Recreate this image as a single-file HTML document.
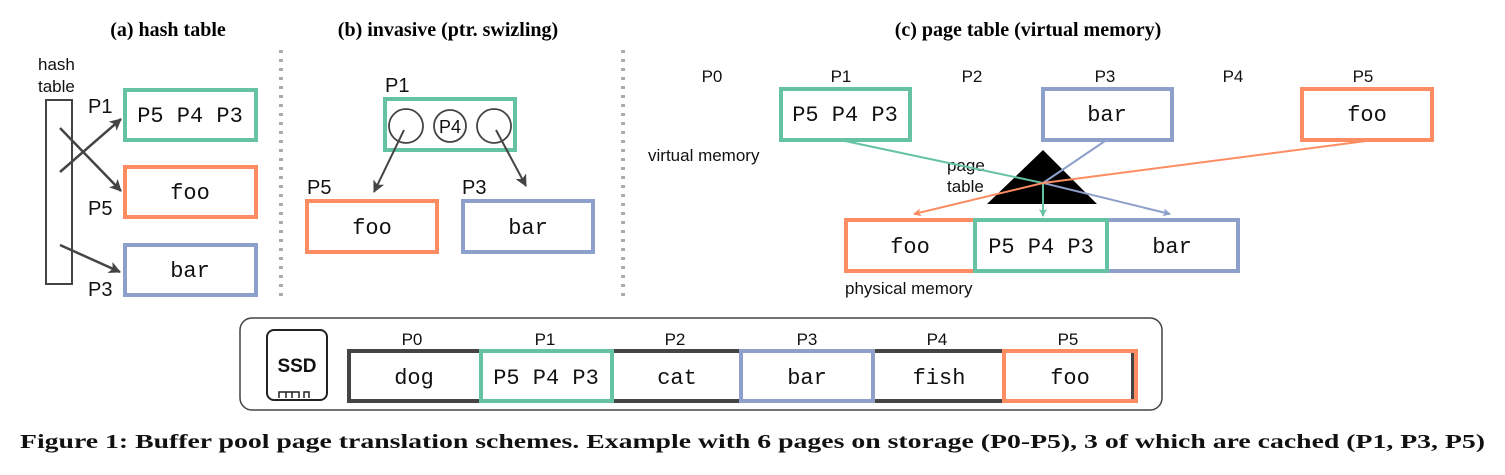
<!DOCTYPE html>
<html><head><meta charset="utf-8"><style>body{margin:0;background:#fff}svg{display:block}</style></head><body>
<svg width="1505" height="475" viewBox="0 0 1505 475" xmlns="http://www.w3.org/2000/svg">
<defs>
<marker id="ad" markerWidth="12" markerHeight="12" refX="11" refY="6" orient="auto" markerUnits="userSpaceOnUse"><path d="M0,0 L12,6 L0,12 L3,6z" fill="#444"/></marker>
<marker id="ag" markerWidth="8" markerHeight="8" refX="7" refY="4" orient="auto" markerUnits="userSpaceOnUse"><path d="M0,0 L8,4 L0,8 L2,4z" fill="#66c2a5"/></marker>
<marker id="ab" markerWidth="8" markerHeight="8" refX="7" refY="4" orient="auto" markerUnits="userSpaceOnUse"><path d="M0,0 L8,4 L0,8 L2,4z" fill="#8da0cb"/></marker>
<marker id="ao" markerWidth="8" markerHeight="8" refX="7" refY="4" orient="auto" markerUnits="userSpaceOnUse"><path d="M0,0 L8,4 L0,8 L2,4z" fill="#fc8d62"/></marker>
</defs>
<g font-family="Liberation Serif, serif" font-weight="bold" font-size="20" text-anchor="middle">
<text x="168" y="36">(a) hash table</text>
<text x="448" y="36">(b) invasive (ptr. swizling)</text>
<text x="1028" y="36">(c) page table (virtual memory)</text>
</g>
<g stroke="#aaa" stroke-width="4" stroke-dasharray="3,6">
<line x1="281" y1="50" x2="281" y2="302"/><line x1="623" y1="50" x2="623" y2="302"/>
</g>
<g font-family="Liberation Sans, sans-serif" font-size="17" fill="#111">
<text x="38" y="70">hash</text><text x="38" y="92">table</text>
</g>
<rect x="46" y="100" width="26" height="184" fill="none" stroke="#444" stroke-width="2"/>
<g fill="none" stroke-width="4">
<rect x="125" y="90" width="131" height="50" stroke="#66c2a5"/>
<rect x="125" y="167" width="131" height="50" stroke="#fc8d62"/>
<rect x="125" y="245" width="131" height="50" stroke="#8da0cb"/>
<rect x="385" y="99" width="130" height="51" stroke="#66c2a5"/>
<rect x="307" y="201" width="130" height="51" stroke="#fc8d62"/>
<rect x="463" y="201" width="130" height="51" stroke="#8da0cb"/>
<rect x="781" y="89" width="129" height="51" stroke="#66c2a5"/>
<rect x="1043" y="89" width="129" height="51" stroke="#8da0cb"/>
<rect x="1302" y="89" width="130" height="51" stroke="#fc8d62"/>
</g>
<g stroke="#444" stroke-width="2.5" fill="none">
<line x1="60" y1="172" x2="121" y2="119" marker-end="url(#ad)"/>
<line x1="60" y1="128" x2="121" y2="191" marker-end="url(#ad)"/>
<line x1="60" y1="245" x2="120" y2="272" marker-end="url(#ad)"/>
<circle cx="406" cy="126" r="17" stroke-width="1.8"/>
<circle cx="450" cy="126" r="16" stroke-width="1.8"/>
<circle cx="494" cy="126" r="17" stroke-width="1.8"/>
<line x1="404" y1="130" x2="374" y2="192" marker-end="url(#ad)" stroke-width="2"/>
<line x1="496" y1="130" x2="526" y2="186" marker-end="url(#ad)" stroke-width="2"/>
</g>
<g font-family="Liberation Sans, sans-serif" font-size="20" fill="#111">
<text x="88" y="113">P1</text><text x="88" y="215">P5</text><text x="88" y="296">P3</text>
<text x="385" y="92">P1</text><text x="307" y="194">P5</text><text x="462" y="194">P3</text>
<text x="450" y="133" text-anchor="middle" font-size="18">P4</text>
</g>
<g font-family="Liberation Sans, sans-serif" font-size="17" fill="#111" text-anchor="middle">
<text x="712" y="82">P0</text><text x="841" y="82">P1</text><text x="972" y="82">P2</text><text x="1105" y="82">P3</text><text x="1233" y="82">P4</text><text x="1363" y="82">P5</text>
</g>
<g font-family="Liberation Sans, sans-serif" font-size="17" fill="#111">
<text x="648" y="161">virtual memory</text>
<text x="845" y="294">physical memory</text>
<text x="947" y="171">page</text><text x="947" y="192">table</text>
</g>
<polygon points="1043,150 987,204 1097,204" fill="#000"/>
<g fill="none" stroke-width="4">
<rect x="846" y="220" width="129" height="51" stroke="#fc8d62"/>
<rect x="1107" y="220" width="131" height="51" stroke="#8da0cb"/>
<rect x="975" y="220" width="132" height="51" stroke="#66c2a5"/>
</g>
<g fill="none" stroke-width="2">
<polyline points="845,141 1043,183 1043,216" stroke="#66c2a5" marker-end="url(#ag)"/>
<polyline points="1105,141 1043,183 1170,214" stroke="#8da0cb" marker-end="url(#ab)"/>
<polyline points="1366,141 1043,183 914,214" stroke="#fc8d62" marker-end="url(#ao)"/>
</g>
<g font-family="Liberation Mono, monospace" font-size="22" fill="#111" text-anchor="middle">
<text x="190" y="122">P5 P4 P3</text><text x="190" y="199">foo</text><text x="190" y="277">bar</text>
<text x="372" y="234">foo</text><text x="528" y="234">bar</text>
<text x="845" y="121">P5 P4 P3</text><text x="1107" y="121">bar</text><text x="1367" y="121">foo</text>
<text x="910" y="253">foo</text><text x="1041" y="253">P5 P4 P3</text><text x="1172" y="253">bar</text>
</g>
<rect x="240" y="318" width="922" height="92" rx="12" fill="none" stroke="#444" stroke-width="1.5"/>
<rect x="267" y="330" width="60" height="70" rx="7" fill="none" stroke="#222" stroke-width="2"/>
<text x="297" y="372" text-anchor="middle" font-family="Liberation Sans, sans-serif" font-weight="bold" font-size="19" fill="#111">SSD</text>
<path d="M279,398 v-6 h20 v6 M286,392 v6 M292,392 v6 M304,398 v-6 h5 v6" fill="none" stroke="#222" stroke-width="1.5"/>
<g fill="none" stroke-width="4">
<rect x="349" y="351" width="784" height="50" stroke="#444"/>
<rect x="741" y="351" width="132" height="50" stroke="#8da0cb"/>
<rect x="481" y="351" width="131" height="50" stroke="#66c2a5"/>
<rect x="1004" y="351" width="132" height="50" stroke="#fc8d62"/>
</g>
<g font-family="Liberation Sans, sans-serif" font-size="17" fill="#111" text-anchor="middle">
<text x="412" y="345">P0</text><text x="545" y="345">P1</text><text x="675" y="345">P2</text><text x="807" y="345">P3</text><text x="937" y="345">P4</text><text x="1068" y="345">P5</text>
</g>
<g font-family="Liberation Mono, monospace" font-size="22" fill="#111" text-anchor="middle">
<text x="414" y="384">dog</text><text x="546" y="384">P5 P4 P3</text><text x="677" y="384">cat</text><text x="807" y="384">bar</text><text x="939" y="384">fish</text><text x="1070" y="384">foo</text>
</g>
<text x="20" y="448" font-family="Liberation Serif, serif" font-weight="bold" font-size="20" fill="#111" textLength="1465" lengthAdjust="spacingAndGlyphs">Figure 1: Buffer pool page translation schemes. Example with 6 pages on storage (P0-P5), 3 of which are cached (P1, P3, P5)</text>
</svg>
</body></html>
